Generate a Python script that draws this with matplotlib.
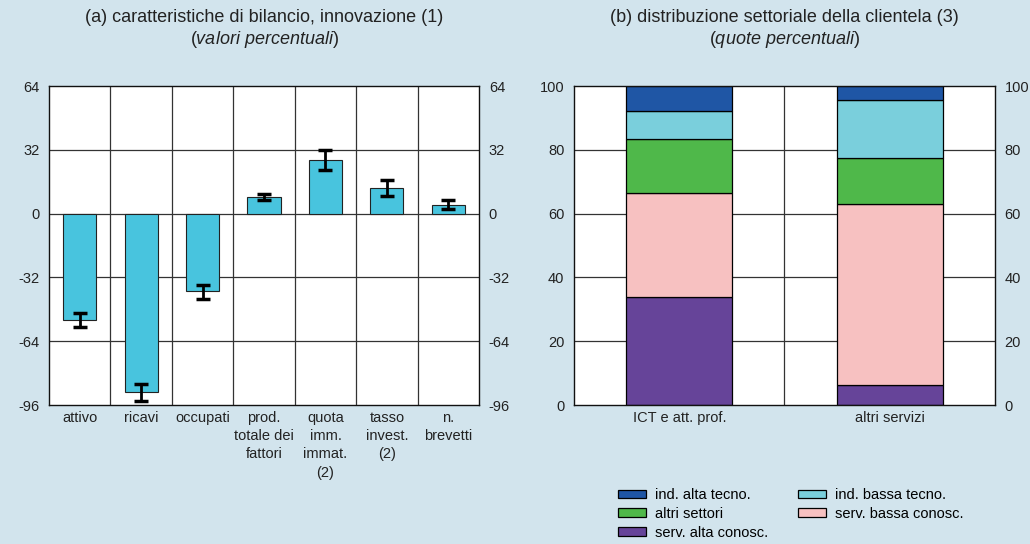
import matplotlib.pyplot as plt
import numpy as np

plt.rcParams['font.family'] = ['Liberation Sans', 'DejaVu Sans']
plt.rcParams['axes.unicode_minus'] = False
plt.rcParams['mathtext.fontset'] = 'custom'
plt.rcParams['mathtext.it'] = 'Liberation Sans:italic'
plt.rcParams['mathtext.rm'] = 'Liberation Sans'

# pannello (a)
voci = ["attivo", "ricavi", "occupati", "prod.\ntotale dei\nfattori",
        "quota\nimm.\nimmat.\n(2)", "tasso\ninvest.\n(2)", "n.\nbrevetti"]
valori = [-53.5, -89.7, -39.0, 8.3, 27.0, 12.8, 4.5]
err_basso = [-56.8, -93.8, -42.7, 6.8, 22.0, 9.0, 2.3]
err_alto = [-50.0, -85.5, -35.7, 9.8, 32.0, 17.0, 7.0]

# pannello (b)
gruppi = ["ICT e att. prof.", "altri servizi"]
serv_alta = [34.0, 6.3]
serv_bassa = [32.6, 56.6]
altri_sett = [16.7, 14.6]
ind_bassa = [8.8, 18.0]
ind_alta = [7.9, 4.5]

sfondo = "#d2e4ed"
fig = plt.figure(figsize=(10.3, 5.44), dpi=100, facecolor=sfondo)

# --- (a)
ax1 = fig.add_axes([0.0476, 0.2555, 0.4175, 0.5864])
x = np.arange(len(voci))
ax1.set_xlim(-0.5, len(voci) - 0.5)
ax1.set_ylim(-96, 64)
ax1.set_yticks([-96, -64, -32, 0, 32, 64])
for yy in [-64, -32, 0, 32]:
    ax1.axhline(yy, color="#333333", lw=0.9, zorder=1)
for xx in x[:-1] + 0.5:
    ax1.axvline(xx, color="#333333", lw=0.9, zorder=1)
err = [np.array(valori) - np.array(err_basso), np.array(err_alto) - np.array(valori)]
ax1.bar(x, valori, width=0.54, color="#48c4de", edgecolor="#222222", lw=0.8, zorder=2)
ax1.errorbar(x, valori, yerr=err, fmt="none", ecolor="black", elinewidth=2,
             capsize=5, capthick=2.5, zorder=3)
ax1.set_xticks(x)
ax1.set_xticklabels(voci, fontsize=10.5, linespacing=1.4, va="top")

# --- (b)
ax2 = fig.add_axes([0.5573, 0.2555, 0.4087, 0.5864])
xb = np.arange(len(gruppi))
ax2.set_xlim(-0.5, 1.5)
ax2.set_ylim(0, 100)
ax2.set_yticks([0, 20, 40, 60, 80, 100])
for yy in [20, 40, 60, 80]:
    ax2.axhline(yy, color="#333333", lw=0.9, zorder=1)
ax2.axvline(0.5, color="#333333", lw=0.9, zorder=1)
serie = [
    (serv_alta, "#664499", "serv. alta conosc."),
    (serv_bassa, "#f7c1c1", "serv. bassa conosc."),
    (altri_sett, "#4fb84a", "altri settori"),
    (ind_bassa, "#7acfdc", "ind. bassa tecno."),
    (ind_alta, "#1f56a5", "ind. alta tecno."),
]
base = np.zeros(len(gruppi))
h = {}
for vals, col, lab in serie:
    h[lab] = ax2.bar(xb, vals, bottom=base, width=0.505, color=col,
                     edgecolor="black", lw=0.9, zorder=2, label=lab)
    base += np.array(vals)
ax2.set_xticks(xb)
ax2.set_xticklabels(gruppi, fontsize=10.5)

for ax in (ax1, ax2):
    ax.set_facecolor("white")
    ax.tick_params(axis="y", labelright=True, length=0, labelsize=10.5, pad=7,
                   colors="#222222")
    ax.tick_params(axis="x", length=0, pad=4, colors="#222222")
    for s in ax.spines.values():
        s.set_color("#111111")
        s.set_linewidth(1.0)
        s.set_zorder(4)

# titoli
fig.text(0.2563, 0.967, "(a) caratteristiche di bilancio, innovazione (1)",
         ha="center", va="center", fontsize=13, color="#222222")
fig.text(0.2563, 0.927, "(" + r"$\it{valori\ percentuali}$" + ")", ha="center",
         va="center", fontsize=13, color="#222222")
fig.text(0.7617, 0.967, "(b) distribuzione settoriale della clientela (3)",
         ha="center", va="center", fontsize=13, color="#222222")
fig.text(0.7617, 0.927, "(" + r"$\it{quote\ percentuali}$" + ")", ha="center",
         va="center", fontsize=13, color="#222222")

ordine = ["ind. alta tecno.", "altri settori", "serv. alta conosc.",
          "ind. bassa tecno.", "serv. bassa conosc."]
leg = fig.legend([h[k] for k in ordine], ordine, ncol=2, loc="upper left",
                 bbox_to_anchor=(0.593, 0.116), frameon=False, fontsize=10.5,
                 handlelength=1.9, handleheight=0.55, handletextpad=0.6,
                 columnspacing=2.1, labelspacing=0.33, borderpad=0)

fig.savefig("out.png", dpi=100, facecolor=sfondo)
